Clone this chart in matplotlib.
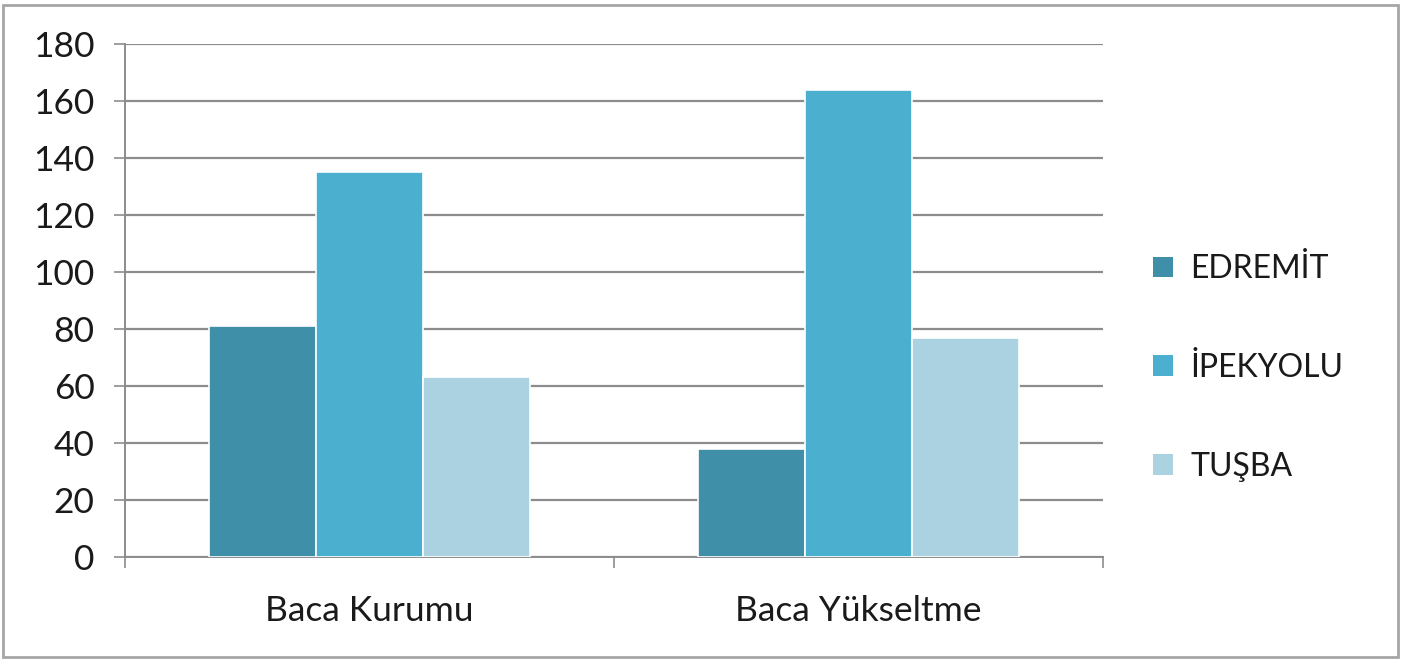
import matplotlib
matplotlib.use("Agg")
import matplotlib.pyplot as plt
from matplotlib.patches import Rectangle, Patch
import numpy as np

categories = ["Baca Kurumu", "Baca Yükseltme"]
series_names = ["EDREMİT", "İPEKYOLU", "TUŞBA"]
edremit = [81, 38]
ipekyolu = [135, 164]
tusba = [63, 77]
yticks = [0, 20, 40, 60, 80, 100, 120, 140, 160, 180]
colors = ["#3f8fa9", "#4bb0d0", "#aad2e1"]

plt.rcParams['font.family'] = ['Lato', 'DejaVu Sans']

W, H = 1403, 660
fig = plt.figure(figsize=(W / 100, H / 100), dpi=100)
ax = fig.add_axes([125 / W, 1 - 557 / H, (1103 - 125) / W, (557 - 44) / H])

x = np.arange(len(categories))
width = 0.219
series = [edremit, ipekyolu, tusba]
for i, (vals, c) in enumerate(zip(series, colors)):
    ax.bar(x + (i - 1) * width, vals, width, color=c, edgecolor="white",
           linewidth=1.2, zorder=3, label=series_names[i])

ax.set_xlim(-0.5, 1.5)
ax.set_ylim(0, 180)
ax.set_yticks(yticks)
ax.set_yticklabels([str(t) for t in yticks], fontsize=25.5, color="#1a1a1a")
ax.yaxis.grid(True, color="#8c8c8c", linewidth=1.6, zorder=0)
ax.set_axisbelow(True)

ax.set_xticks([-0.5, 0.5, 1.5])
ax.set_xticklabels([])
ax.tick_params(axis="x", length=8, width=1.2, color="#8c8c8c")
ax.tick_params(axis="y", length=8, width=1.2, color="#8c8c8c", pad=14)
for j, cat in enumerate(categories):
    ax.text(x[j], -19, cat, ha="center", va="center", fontsize=25.5, color="#1a1a1a")

for s in ["top", "right"]:
    ax.spines[s].set_visible(False)
for s in ["left", "bottom"]:
    ax.spines[s].set_color("#8c8c8c")
    ax.spines[s].set_linewidth(1.4)

handles = [Patch(facecolor=c, edgecolor="none") for c in colors]
fig.legend(handles, series_names, loc="center left",
           bbox_to_anchor=(1124 / W, 1 - 368 / H), frameon=False,
           fontsize=23, labelspacing=2.15, handlelength=0.62, handleheight=0.62,
           handletextpad=0.55, labelcolor="#1a1a1a")

fig.patches.append(Rectangle((3 / W, 3 / H), 1 - 8 / W, 1 - 8 / H,
                             transform=fig.transFigure, fill=False,
                             edgecolor="#a6a6a6", linewidth=2))

fig.savefig("out.png", dpi=100)
